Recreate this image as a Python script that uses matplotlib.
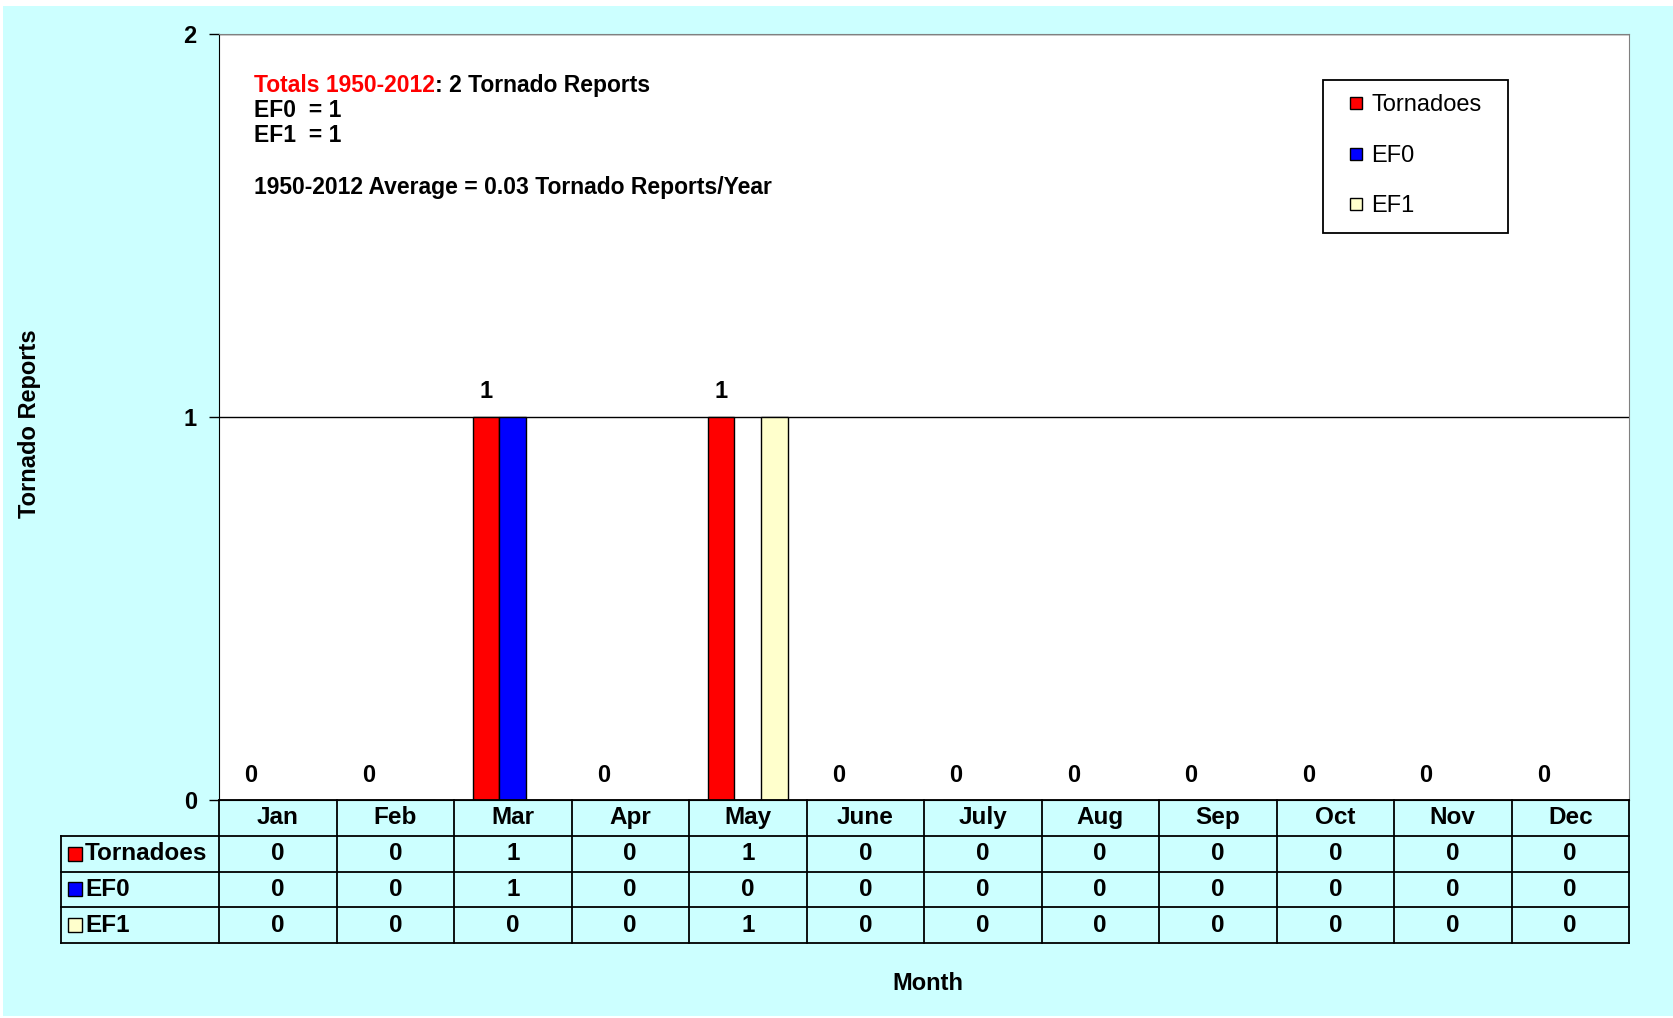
import matplotlib.pyplot as plt
import numpy as np
from matplotlib.lines import Line2D
from matplotlib.patches import Rectangle

months = ['Jan', 'Feb', 'Mar', 'Apr', 'May', 'June', 'July', 'Aug', 'Sep', 'Oct', 'Nov', 'Dec']
tornadoes = [0, 0, 1, 0, 1, 0, 0, 0, 0, 0, 0, 0]
ef0 = [0, 0, 1, 0, 0, 0, 0, 0, 0, 0, 0, 0]
ef1 = [0, 0, 0, 0, 1, 0, 0, 0, 0, 0, 0, 0]
series_names = ['Tornadoes', 'EF0', 'EF1']
series_colors = ['#FF0000', '#0000FF', '#FFFFCC']
yticks = [0, 1, 2]

plt.rcParams['font.family'] = ['Liberation Sans', 'DejaVu Sans']

W, H = 1673, 1018
fig = plt.figure(figsize=(W / 100, H / 100), dpi=100)
fig.patch.set_facecolor('white')
fig.patches.append(Rectangle((3 / W, 2 / H), 1, 1 - 8 / H, transform=fig.transFigure,
                             facecolor='#CCFFFF', edgecolor='none', zorder=-10))

# main chart
left, right, top, bottom = 219, 1629, 34, 800
ax = fig.add_axes([left / W, 1 - bottom / H, (right - left) / W, (bottom - top) / H])
ax.set_facecolor('white')
x = np.arange(len(months))
w = 0.227
series = [tornadoes, ef0, ef1]
for i, (vals, c) in enumerate(zip(series, series_colors)):
    ax.bar(x + (i - 1) * w, vals, w, color=c, edgecolor='black', linewidth=1, zorder=3)

ax.set_xlim(-0.5, len(months) - 0.5)
ax.set_ylim(0, 2)
ax.set_xticks([])
ax.set_yticks(yticks)
ax.set_yticklabels([str(v) for v in yticks], fontsize=17, fontweight='bold')
ax.tick_params(axis='y', length=7, width=1, pad=9)
ax.grid(axis='y', color='black', linewidth=1, zorder=1)
for s in ['top', 'right']:
    ax.spines[s].set_color('#808080')
ax.spines['left'].set_color('black')
ax.spines['bottom'].set_color('black')

for xi, v in zip(x, tornadoes):
    ax.annotate(str(v), (xi - w, v), xytext=(0, 18), textcoords='offset points',
                ha='center', va='center', fontsize=17, fontweight='bold', zorder=5)

# notes
t1 = ax.text(0.025, 0.933, 'Totals 1950-2012', transform=ax.transAxes, color='red',
             fontsize=16.5, fontweight='bold', va='center', ha='left')
ax.annotate(': 2 Tornado Reports', xy=(1, 0), xycoords=t1, va='bottom', ha='left',
            fontsize=16.5, fontweight='bold')
ax.text(0.025, 0.900, 'EF0  = 1', transform=ax.transAxes, fontsize=16.5, fontweight='bold', va='center')
ax.text(0.025, 0.867, 'EF1  = 1', transform=ax.transAxes, fontsize=16.5, fontweight='bold', va='center')
ax.text(0.025, 0.799, '1950-2012 Average = 0.03 Tornado Reports/Year', transform=ax.transAxes,
        fontsize=16.5, fontweight='bold', va='center')

# legend with a hand-placed frame
ax.add_patch(Rectangle((0.783, 0.740), 0.131, 0.200, transform=ax.transAxes, facecolor='white',
                       edgecolor='black', linewidth=1.3, zorder=6))
handles = [Line2D([], [], linestyle='none', marker='s', markersize=9, markerfacecolor=c,
                  markeredgecolor='black', markeredgewidth=1) for c in series_colors]
leg = ax.legend(handles, series_names, loc='center left', bbox_to_anchor=(0.802, 0.841),
                frameon=False, fontsize=17, labelspacing=1.2, handlelength=0.55,
                handletextpad=0.35, borderpad=0, borderaxespad=0)
leg.set_zorder(7)

# data table
tleft, tbottom = 61, 943
tax = fig.add_axes([tleft / W, 1 - tbottom / H, (right - tleft) / W, (tbottom - bottom) / H])
unit = (right - left) / len(months)
L = (left - tleft) / unit
x0 = -0.5 - L
tax.set_xlim(x0, len(months) - 0.5)
tax.set_ylim(4, 0)
tax.axis('off')

lw = 1.3
for k in range(len(months) + 1):
    tax.plot([k - 0.5, k - 0.5], [0, 4], color='black', lw=lw, clip_on=False)
tax.plot([x0, x0], [1, 4], color='black', lw=lw, clip_on=False)
tax.plot([-0.5, len(months) - 0.5], [0, 0], color='black', lw=lw, clip_on=False)
for r in range(1, 5):
    tax.plot([x0, len(months) - 0.5], [r, r], color='black', lw=lw, clip_on=False)

fs = 17.5
for i, m in enumerate(months):
    tax.text(i, 0.5, m, ha='center', va='center', fontsize=fs, fontweight='bold')
for r, (name, c, vals) in enumerate(zip(series_names, series_colors, series)):
    yc = r + 1.5
    tax.plot([x0 + 0.115], [yc], marker='s', markersize=10, markerfacecolor=c,
             markeredgecolor='black', markeredgewidth=1, clip_on=False)
    tax.text(x0 + 0.205, yc, name, ha='left', va='center', fontsize=fs, fontweight='bold')
    for i, v in enumerate(vals):
        tax.text(i, yc, str(v), ha='center', va='center', fontsize=fs, fontweight='bold')

fig.text(30 / W, 1 - 424 / H, 'Tornado Reports', rotation=90, ha='center', va='center',
         fontsize=17, fontweight='bold')
fig.text(928 / W, 1 - 984 / H, 'Month', ha='center', va='center', fontsize=17, fontweight='bold')

fig.savefig('out.png', dpi=100, facecolor=fig.get_facecolor())
